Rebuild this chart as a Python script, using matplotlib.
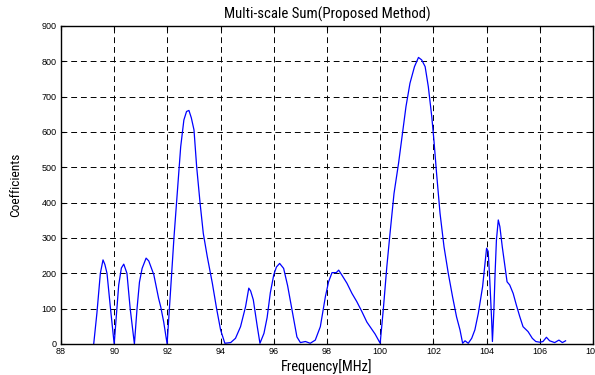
import matplotlib
matplotlib.use("Agg")
import matplotlib.pyplot as plt
from matplotlib import font_manager

# Multi-scale sum of coefficients over the FM band
freq_mhz = [
    89.23, 89.35, 89.48, 89.58, 89.65, 89.73, 89.86, 90.00,
    90.08, 90.17, 90.27, 90.36, 90.48, 90.60, 90.76,
    90.86, 90.95, 91.05, 91.20, 91.30, 91.49, 91.67, 91.75, 91.86, 91.99,
    92.12, 92.25, 92.38, 92.50, 92.62, 92.72, 92.81, 92.90, 93.00, 93.10,
    93.23, 93.35, 93.50, 93.69, 93.85, 94.00, 94.16, 94.38, 94.56, 94.75,
    94.94, 95.06, 95.13, 95.23, 95.38, 95.48, 95.63, 95.75, 95.87, 96.00,
    96.10, 96.22, 96.37, 96.52, 96.69, 96.87, 97.00, 97.19, 97.37, 97.56,
    97.75, 97.94, 98.06, 98.19, 98.35, 98.44, 98.56, 98.75, 98.94, 99.12,
    99.31, 99.50, 99.62, 99.81, 100.00,
    100.12, 100.25, 100.37, 100.52, 100.69, 100.84, 100.97, 101.12, 101.29,
    101.44, 101.56, 101.69, 101.81, 101.94, 102.02, 102.12, 102.25, 102.40,
    102.56, 102.72, 102.87, 103.00, 103.10, 103.19, 103.31, 103.44, 103.56,
    103.69, 103.85, 103.94, 104.00, 104.06, 104.12, 104.19, 104.22, 104.27,
    104.32, 104.37, 104.44, 104.50, 104.59, 104.69, 104.77, 104.87, 105.00,
    105.12, 105.25, 105.37, 105.56, 105.72, 105.85, 106.00, 106.12, 106.25,
    106.37, 106.56, 106.72, 106.85, 106.97,
]
coefficients = [
    0, 87, 200, 238, 225, 200, 101, 0,
    80, 167, 215, 226, 200, 101, 0,
    101, 175, 214, 243, 235, 196, 129, 105, 63, 0,
    153, 304, 436, 558, 634, 658, 661, 640, 606, 502,
    398, 313, 247, 172, 100, 40, 2, 4, 16, 49,
    106, 158, 150, 125, 49, 2, 30, 75, 145, 196,
    218, 228, 214, 165, 95, 20, 4, 7, 2, 11,
    49, 134, 176, 202, 202, 209, 195, 172, 143, 120,
    92, 62, 49, 28, 2,
    100, 219, 313, 426, 511, 596, 672, 738, 785,
    811, 804, 785, 728, 643, 577, 483, 370, 275,
    200, 134, 77, 40, 2, 9, 2, 16, 40,
    87, 162, 228, 271, 262, 181, 68, 7, 87,
    200, 294, 351, 332, 275, 219, 176, 167, 143,
    110, 77, 49, 35, 16, 7, 5, 7, 19,
    9, 4, 11, 4, 9,
]

x_ticks = list(range(88, 109, 2))
y_ticks = list(range(0, 901, 100))

# Pick a narrow face for the title and axis labels when one is installed
names = {f.name for f in font_manager.fontManager.ttflist}
narrow = [n for n in ("Liberation Sans Narrow", "Roboto Condensed",
                      "Open Sans Condensed", "DejaVu Sans") if n in names]
label_font = dict(family=narrow, stretch="condensed")

fig = plt.figure(figsize=(5.95, 3.75), dpi=100)
ax = fig.add_axes([0.1025, 0.0827, 0.8941, 0.848])

ax.plot(freq_mhz, coefficients, color="#0000ff", linewidth=0.9)

ax.set_xlim(88, 108)
ax.set_ylim(0, 900)
ax.set_xticks(x_ticks)
ax.set_yticks(y_ticks)
ax.tick_params(direction="in", length=3, width=0.8, labelsize=6.5,
               top=True, right=True)
ax.tick_params(axis="x", pad=2.5)
ax.tick_params(axis="y", pad=3)
for lbl in ax.get_xticklabels() + ax.get_yticklabels():
    lbl.set_family(["Liberation Sans", "DejaVu Sans"])

ax.grid(True, color="black", linestyle=(0, (6, 4)), linewidth=0.7)
for spine in ax.spines.values():
    spine.set_linewidth(1.0)
    spine.set_color("black")

ax.set_title("Multi-scale Sum(Proposed Method)", pad=5, fontsize=10.6,
             **label_font)
ax.set_xlabel("Frequency[MHz]", labelpad=2, fontsize=10.4, **label_font)
ax.set_ylabel("Coefficients", labelpad=14, fontsize=9.6, **label_font)

fig.savefig("out.png", dpi=100)
